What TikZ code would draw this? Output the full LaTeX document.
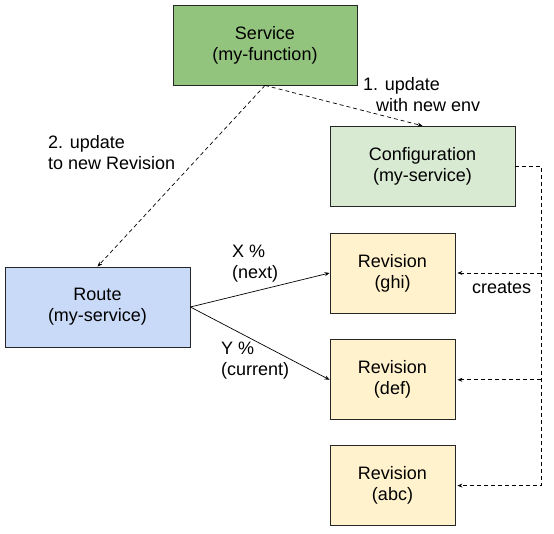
\documentclass[tikz,border=0pt]{standalone}
\usepackage{fontspec}
\setmainfont{Liberation Sans}
\usetikzlibrary{positioning,arrows.meta}
\definecolor{svcgreen}{HTML}{93C47D}
\definecolor{cfggreen}{HTML}{D9EAD3}
\definecolor{routeblue}{HTML}{C9DAF8}
\definecolor{revyellow}{HTML}{FFF2CC}

\begin{document}
\begin{tikzpicture}[x=1pt,y=1pt,
    font=\fontsize{18}{21}\selectfont,
    box/.style={draw=black!85, line width=0.8pt, minimum height=80pt, align=center, inner sep=0pt},
    rev/.style={box, fill=revyellow, minimum width=125pt},
    flow/.style={-{Stealth[length=5pt,width=4pt]}, line width=0.7pt},
    dflow/.style={flow, dash pattern=on 4pt off 3pt},
    lbl/.style={anchor=north west, align=left, inner sep=0pt}]
  \useasboundingbox (0,0) rectangle (554,533);

  \node[rev] (ghi) at (392.5,260) {Revision\\(ghi)} ; %
  \node[rev, below=26pt of ghi] (def) {Revision\\(def)};
  \node[rev, below=25pt of def] (abc) {Revision\\(abc)};
  \node[box, fill=cfggreen, minimum width=185pt, above=26pt of ghi.north west, anchor=south west] (cfg) {Configuration\\(my-service)};
  \node[box, fill=svcgreen, minimum width=184pt] (svc) at (265,488) {Service\\(my-function)} ; %
  \node[box, fill=routeblue, minimum width=185pt] (route) at (97.5,226) {Route\\(my-service)};
  \coordinate[right=26pt of cfg.east] (rail);

  \draw[dflow] (svc.south) -- (cfg.north) ; %
  \draw[dflow] (svc.south) -- (route.north);
  \draw[flow] (route.east) -- (ghi.west);
  \draw[flow] (route.east) -- (def.west);

  \draw[dflow, shorten >=2pt] (cfg.east) -- (rail) |- (abc.east);
  \draw[dflow, shorten >=2pt] (rail |- ghi.east) -- (ghi.east);
  \draw[dflow, shorten >=2pt] (rail |- def.east) -- (def.east);

  \node[lbl] (upd1) at (363,456) {1. update\\\hspace*{13pt}with new env};
  \node[lbl] (upd2) at (48,398) {2. update\\to new Revision};
  \node[lbl] (pctx) at (232,288) {X \%\\(next)};
  \node[lbl] (pcty) at (221,191) {Y \%\\(current)};
  \node[lbl] (crt) at (472,251) {creates};

\end{tikzpicture}
\end{document}
